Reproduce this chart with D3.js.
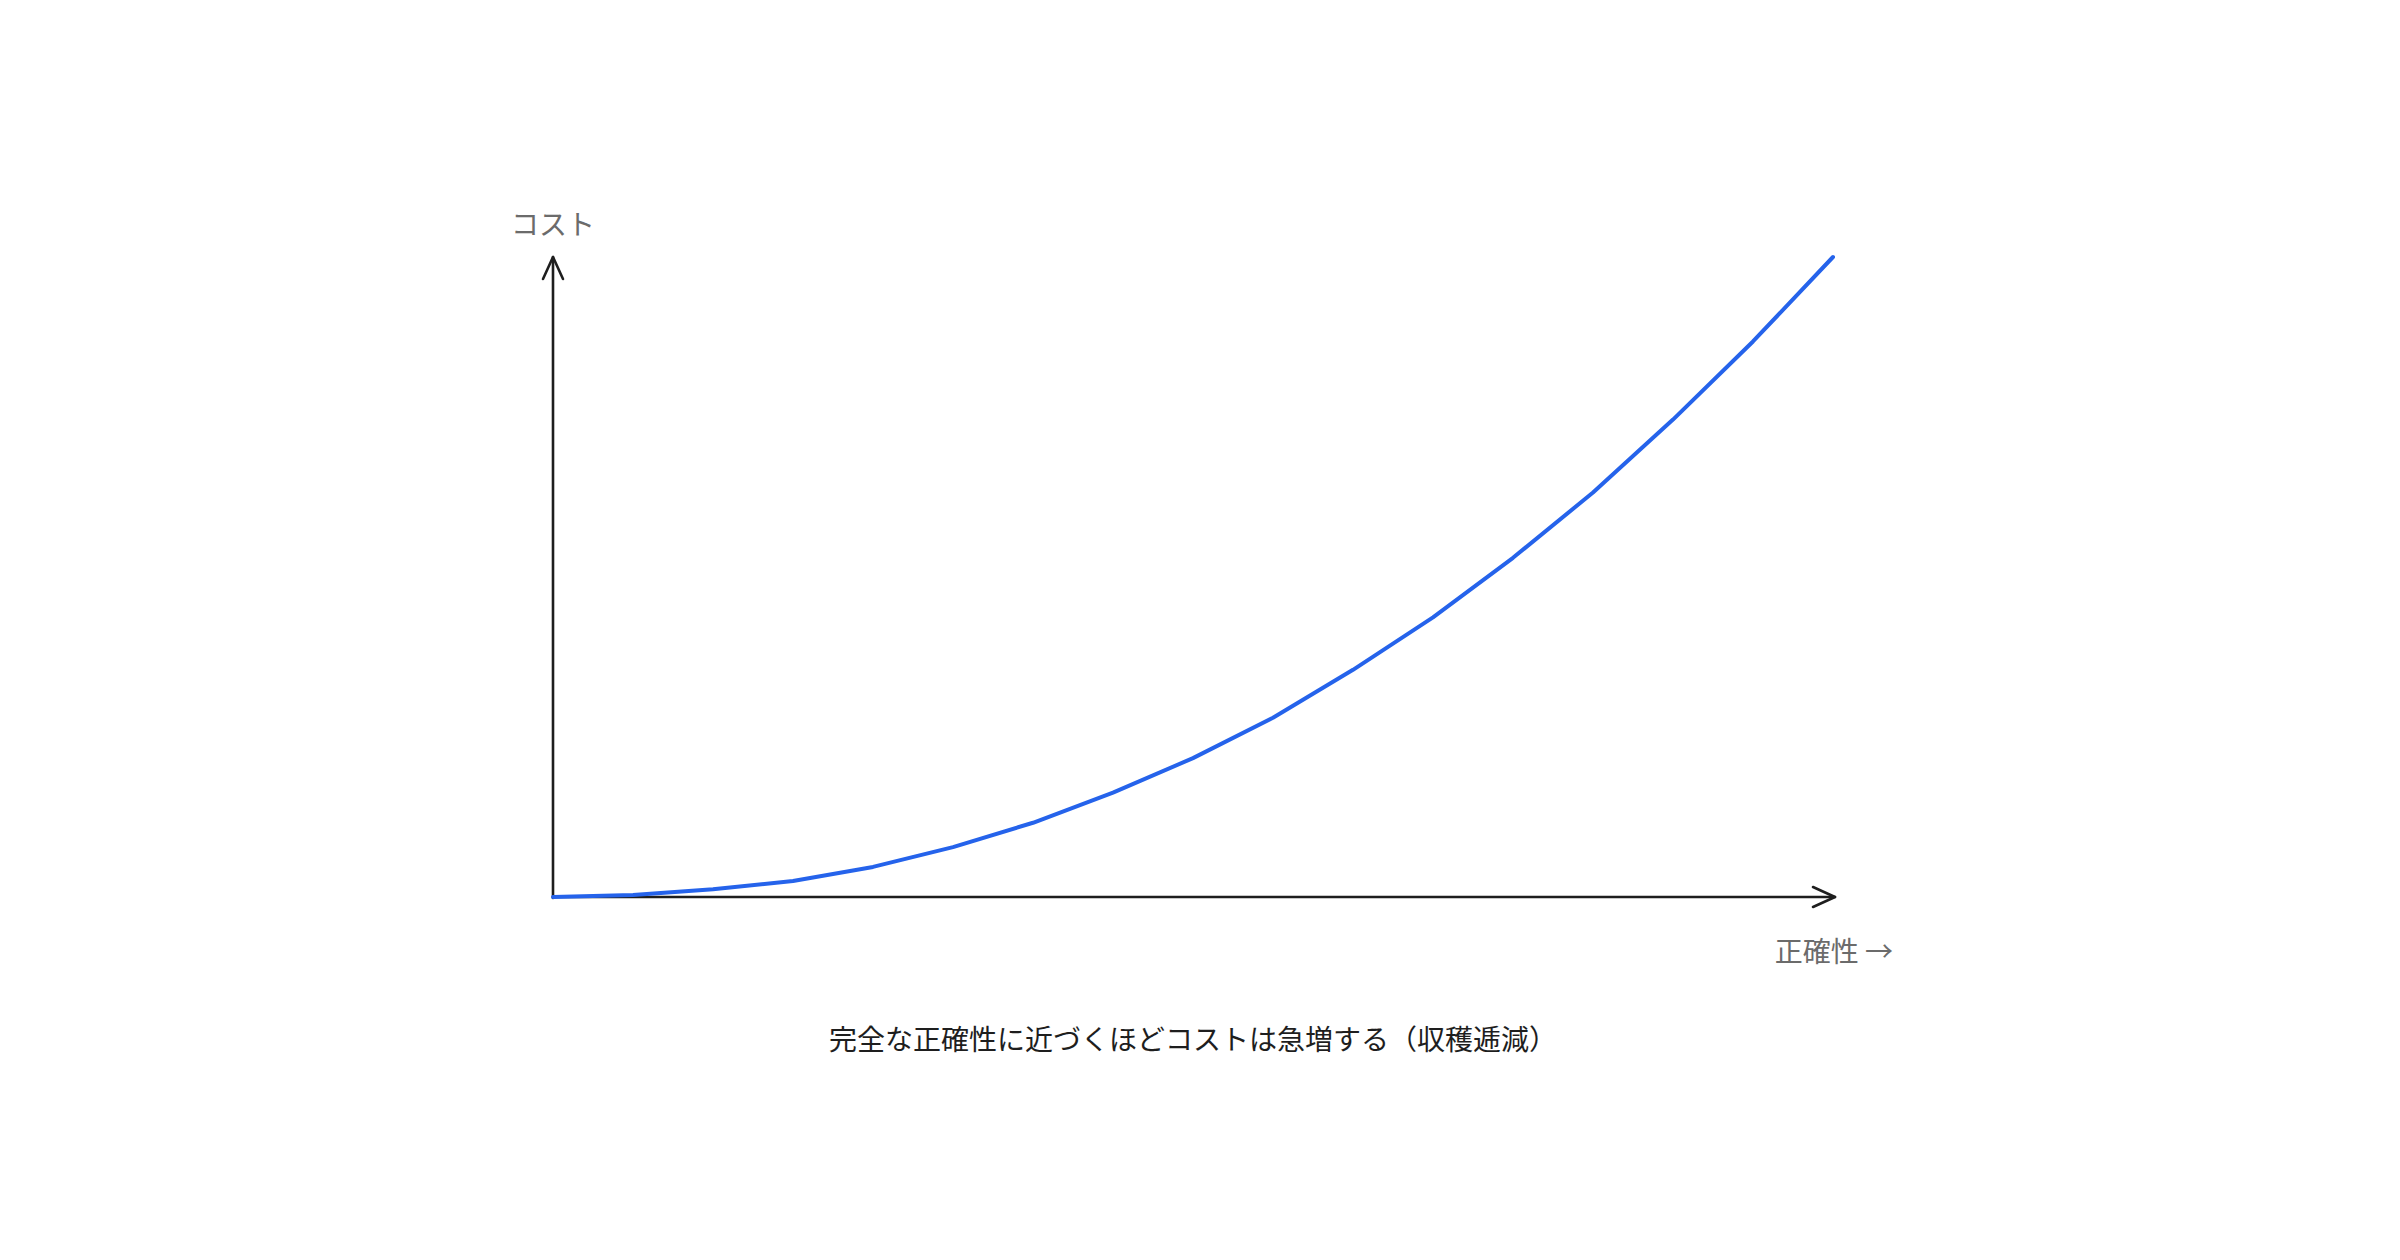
<!DOCTYPE html>
<html lang="ja">
	<head>
		<meta charset="utf-8">
		<title>Cost vs accuracy</title>
		<script type="text/javascript" src="https://d3js.org/d3.v7.min.js"></script>
		<style type="text/css">
			body { margin: 0; background: #fff; }
			text { font-family: "Noto Sans CJK JP", "Noto Sans", sans-serif; }
		</style>
	</head>
	<body>
		<script type="text/javascript">

			var w = 2400;
			var h = 1260;

			// accuracy (x) and cost (y), both 0..100
			var accuracy = [0, 6.25, 12.5, 18.75, 25, 31.25, 37.5, 43.75, 50, 56.25, 62.5, 68.75, 75, 81.25, 87.5, 93.75, 100];
			var cost = [0, 0.3, 1.2, 2.5, 4.7, 7.8, 11.6, 16.3, 21.7, 28, 35.5, 43.7, 53, 63.2, 74.6, 86.8, 100];

			var yLabel = "コスト";
			var xLabel = "正確性 →";
			var caption = "完全な正確性に近づくほどコストは急増する（収穫逓減）";

			var margin = {top: 257, right: 567, bottom: 363, left: 553};

			var svg = d3.select("body")
			            .append("svg")
			            .attr("width", w)
			            .attr("height", h);

			var xScale = d3.scaleLinear()
			               .domain([0, 100])
			               .range([margin.left, w - margin.right]);

			var yScale = d3.scaleLinear()
			               .domain([0, 100])
			               .range([h - margin.bottom, margin.top]);

			var x0 = xScale(0), y0 = yScale(0);
			var xEnd = xScale(100) + 2, yEnd = yScale(100);

			var axisColor = "#1e1e1e";

			// y axis with arrow head
			svg.append("path")
			   .attr("d", "M" + x0 + "," + (y0 + 1) + "L" + x0 + "," + yEnd)
			   .attr("fill", "none")
			   .attr("stroke", axisColor)
			   .attr("stroke-width", 2.6)
			   .attr("stroke-linecap", "round");
			svg.append("path")
			   .attr("d", "M" + (x0 - 10) + "," + (yEnd + 22) + "L" + x0 + "," + yEnd + "L" + (x0 + 10) + "," + (yEnd + 22))
			   .attr("fill", "none")
			   .attr("stroke", axisColor)
			   .attr("stroke-width", 2.6)
			   .attr("stroke-linecap", "round")
			   .attr("stroke-linejoin", "round");

			// x axis with arrow head
			svg.append("path")
			   .attr("d", "M" + x0 + "," + y0 + "L" + xEnd + "," + y0)
			   .attr("fill", "none")
			   .attr("stroke", axisColor)
			   .attr("stroke-width", 2.6)
			   .attr("stroke-linecap", "round");
			svg.append("path")
			   .attr("d", "M" + (xEnd - 22) + "," + (y0 - 10) + "L" + xEnd + "," + y0 + "L" + (xEnd - 22) + "," + (y0 + 10))
			   .attr("fill", "none")
			   .attr("stroke", axisColor)
			   .attr("stroke-width", 2.6)
			   .attr("stroke-linecap", "round")
			   .attr("stroke-linejoin", "round");

			// the cost curve
			var points = accuracy.map(function(a, i) { return [a, cost[i]]; });
			var line = d3.line()
			             .x(function(d) { return xScale(d[0]); })
			             .y(function(d) { return yScale(d[1]); });

			svg.append("path")
			   .datum(points)
			   .attr("d", line)
			   .attr("fill", "none")
			   .attr("stroke", "#2563eb")
			   .attr("stroke-width", 4)
			   .attr("stroke-linecap", "round")
			   .attr("stroke-linejoin", "round");

			// labels
			svg.append("text")
			   .attr("x", x0)
			   .attr("y", 235)
			   .attr("text-anchor", "middle")
			   .style("font-size", "28px")
			   .style("fill", "#6b6b6b")
			   .text(yLabel);

			svg.append("text")
			   .attr("x", 1893)
			   .attr("y", 962)
			   .attr("text-anchor", "end")
			   .style("font-size", "28px")
			   .style("fill", "#6b6b6b")
			   .text(xLabel);

			svg.append("text")
			   .attr("x", 1193)
			   .attr("y", 1050)
			   .attr("text-anchor", "middle")
			   .style("font-size", "28px")
			   .style("fill", "#1e1e1e")
			   .text(caption);

		</script>
	</body>
</html>
